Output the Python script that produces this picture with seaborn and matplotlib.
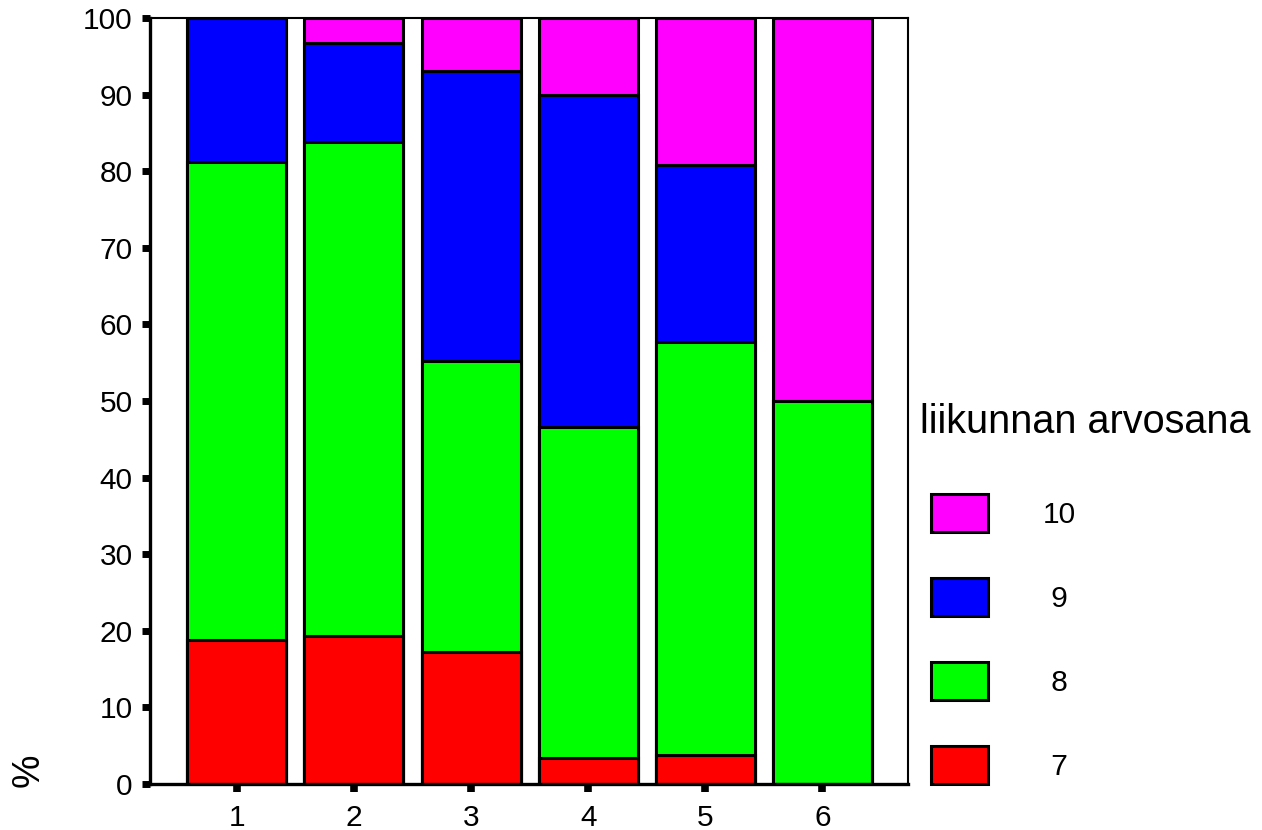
import numpy as np
import pandas as pd
import matplotlib
matplotlib.use('Agg')
import matplotlib.pyplot as plt
import seaborn as sns
from matplotlib.patches import Patch

sns.set_theme(style="white")
plt.rcParams['font.family'] = ['Liberation Sans', 'DejaVu Sans']
plt.rcParams['text.color'] = 'black'
plt.rcParams['xtick.color'] = 'black'
plt.rcParams['ytick.color'] = 'black'
plt.rcParams['xtick.labelcolor'] = 'black'
plt.rcParams['ytick.labelcolor'] = 'black'

# data (percent within each group)
groups = ['1', '2', '3', '4', '5', '6']
grade7 = [18.75, 19.35, 17.24, 3.33, 3.85, 0.0]
grade8 = [62.50, 64.52, 37.93, 43.33, 53.85, 50.0]
grade9 = [18.75, 12.90, 37.93, 43.33, 23.08, 0.0]
grade10 = [0.0, 3.23, 6.90, 10.00, 19.23, 50.0]
grade_names = ['7', '8', '9', '10']
colors = ['#FF0000', '#00FF00', '#0000FF', '#FF00FF']
legend_title = 'liikunnan arvosana'

df = pd.DataFrame({'ryhma': groups, '7': grade7, '8': grade8, '9': grade9, '10': grade10})
cum = df[grade_names].cumsum(axis=1)

fig = plt.figure(figsize=(12.62, 8.30), dpi=100)
ax = fig.add_axes([150 / 1262, 46 / 830, 758 / 1262, 766 / 830])

# pinotut pylväät: kumulatiiviset summat ylimmästä alkaen
for g, c in zip(reversed(grade_names), reversed(colors)):
    sns.barplot(x=df['ryhma'], y=cum[g], order=groups, color=c, width=0.845,
                edgecolor='black', linewidth=2.2, saturation=1, ax=ax)

ax.set_xlim(-0.74, 5.73)
ax.set_ylim(0, 100)
ax.set_yticks(np.arange(0, 101, 10))
ax.set_xlabel('')
ax.set_ylabel('')

for side in ['left', 'bottom']:
    ax.spines[side].set_linewidth(2.4)
    ax.spines[side].set_color('black')
for side in ['top', 'right']:
    ax.spines[side].set_linewidth(1.5)
    ax.spines[side].set_color('black')

ax.tick_params(axis='y', direction='out', length=5.5, width=5, color='black',
               labelsize=21.5, pad=7, left=True, labelcolor='black')
ax.tick_params(axis='x', direction='out', length=5.5, width=5.5, color='black',
               labelsize=21.5, pad=9, bottom=True, labelcolor='black')

fig.text(29 / 1262, 1 - 770 / 830, '%', rotation=90, ha='center', va='center',
         fontsize=27, color='black')
fig.text(920 / 1262, 1 - 422 / 830, legend_title, ha='left', va='center',
         fontsize=28.5, color='black')

# yksinumeroiset selitteet keskitetään välilyönnillä
handles = [Patch(facecolor=c, edgecolor='black', linewidth=2.2,
                 label=(' ' + g) if len(g) == 1 else g)
           for g, c in zip(reversed(grade_names), reversed(colors))]
leg = ax.legend(handles=handles, loc='upper left', bbox_to_anchor=(931 / 1262, 1 - 494 / 830),
                bbox_transform=fig.transFigure, frameon=False, fontsize=21.5,
                handlelength=1.91, handleheight=1.58, labelspacing=1.54, handletextpad=1.84,
                borderpad=0, borderaxespad=0)
for t in leg.get_texts():
    t.set_color('black')

fig.savefig('out.png', dpi=100)
